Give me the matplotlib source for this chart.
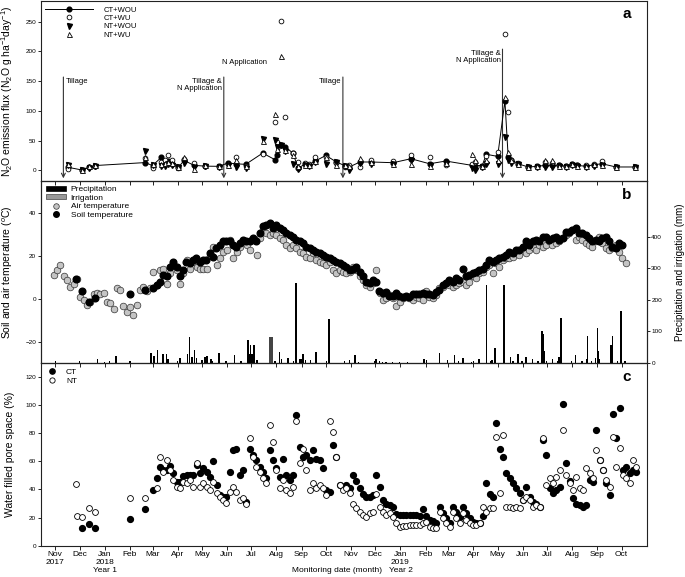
import matplotlib
matplotlib.use('Agg')
import matplotlib.pyplot as plt
import pandas as pd
from matplotlib.lines import Line2D
from matplotlib.patches import Patch

plt.rcParams['font.family'] = ['Liberation Sans', 'DejaVu Sans']
plt.rcParams['mathtext.fontset'] = 'custom'
plt.rcParams['mathtext.rm'] = 'Liberation Sans'
plt.rcParams['mathtext.it'] = 'Liberation Sans:italic'
plt.rcParams['mathtext.bf'] = 'Liberation Sans:bold'

# ---------------- Panel a: N2O flux ----------------
flux_dates = ['2017-11-17', '2017-12-04', '2017-12-13', '2017-12-20',
              '2018-02-20', '2018-03-01', '2018-03-12', '2018-03-16', '2018-03-20', '2018-03-25',
              '2018-04-02', '2018-04-09', '2018-04-21', '2018-05-05', '2018-05-22', '2018-06-02',
              '2018-06-12', '2018-06-24', '2018-07-15', '2018-07-30', '2018-08-02', '2018-08-07',
              '2018-08-12', '2018-08-21', '2018-08-28', '2018-09-05', '2018-09-10', '2018-09-17',
              '2018-10-01', '2018-10-14', '2018-10-24',
              '2018-10-30', '2018-11-12', '2018-11-26', '2018-12-23', '2019-01-14', '2019-02-06',
              '2019-02-26', '2019-03-30', '2019-04-03', '2019-04-12', '2019-04-17', '2019-05-01',
              '2019-05-10', '2019-05-14', '2019-05-18', '2019-05-26', '2019-06-08', '2019-06-19',
              '2019-06-29', '2019-07-07', '2019-07-16', '2019-07-24', '2019-08-01', '2019-08-07',
              '2019-08-18', '2019-08-28', '2019-09-07', '2019-09-24', '2019-10-17']
ct_wou = [5, 0.5, 5, 8,
          13, 8, 22, 11, 15.6, 11,
          5, 16.7, 8.4, 7, 6.7, 12.3,
          11, 10, 29, 18, 25, 42,
          40, 29, 4, 10, 9.5, 15,
          25, 14, 8,
          5.6, 14, 14, 12.8, 19.5, 11,
          15.6, 8.4, 8, 8, 27, 23.4,
          117, 23, 18, 11, 5.6, 6.7,
          8.4, 8.4, 8.4, 6.7, 11, 8.4,
          6.7, 9.5, 11, 5.6, 5.6]
ct_wu = [2, 0, 6, 8,
         21, 4, 14, 18, 26, 17,
         4, 19.5, 12, 8, 5.6, 11,
         22, 8, 28, 81, 47, 251,
         90, 29.6, 14, 12, 10, 23,
         22, 12, 6,
         8.4, 5.6, 16.7, 15.6, 26, 22,
         8.4, 11, 14, 5.6, 23.4, 30.7,
         229, 98, 17, 12, 5, 6,
         14, 12, 9, 7, 10, 9,
         8.4, 10, 15.6, 6, 6]
nt_wou = [9, 0.5, 4, 7,
          33, 9, 8, 8, 10, 9,
          5, 12, 5.6, 8, 5.6, 9.5,
          5.6, 4.5, 52, 51, 40, 43,
          33, 11, 1.7, 8.4, 8, 14,
          11, 14, 7,
          0, 12, 11, 11, 16.7, 8.4,
          12, 4.5, 1, 5.6, 11, 11,
          56, 16.7, 12, 10, 5, 6,
          5.6, 5.6, 7, 6, 9, 7,
          6, 8, 8.4, 5, 5]
nt_wu = [11, 0, 7, 9,
         23, 10, 11, 12, 14, 12,
         6, 23, 3, 9, 8, 9.5,
         16.7, 7, 49, 95, 36, 193,
         35, 25, 7, 9.5, 9, 15,
         22, 8.4, 9,
         7, 21, 14, 10, 11, 6.7,
         12, 28, 16.7, 8, 16.7, 16.7,
         123, 30, 17, 11, 6, 6.7,
         16.7, 16.7, 8, 7, 10, 8,
         7, 11, 9.5, 6, 5.6]

event_dates = ['2017-11-11', '2018-05-28', '2018-10-22', '2019-05-07']
event_labels = ['Tillage', 'Tillage &\nN Application', 'Tillage', 'Tillage &\nN Application']
event_tops = [157, 157, 157, 204]

# ---------------- Panel b: temperature & rain ----------------
air_temp = [11, 13.5, 16, 10.4, 8.8, 5.5, 7, 9, 1, -0.5,
            -3, -1.5, 2, 2.6, 2, 2.6, -1.3, -2, -5, 5,
            4, -3.6, -6, -4, -7.5, -2.8, 4, 5.7, 3.4, 5,
            12.7, 6.5, 13.5, 14, 7, 12, 16.6, 13.5, 7, 12,
            18, 14, 17, 15, 14, 14, 14, 20, 24.4, 16,
            19, 22, 23, 27.5, 19, 22, 24.4, 26.8, 25.2, 23,
            27.5, 20.5, 28.3, 32, 30.6, 30, 30.6, 30, 28.3, 27.5,
            25.2, 23.6, 25.2, 23.6, 22, 21.3, 19.7, 19, 21.3, 18.2,
            17.4, 16.6, 16, 17.4, 13.5, 12, 13.5, 12.7,
            12, 12.7, 15, 13.5, 10.4, 8.8, 6.5, 5.7, 7.3, 13.5,
            2.6, -0.5, 0.3, 1.8, 0.3, -3.6, -1.3, 0.5, 1, 0.5,
            -0.5, 1, 0.5, -0.5, 3.4, 1, 0.5, 1.8, 5, 5.7,
            7.3, 6.5, 5.7, 6.5, 7.3, 8, 6.5, 8, 10.4, 9.6,
            12, 12.7, 15, 16, 12, 16.6, 15, 18.2, 19, 19,
            19.7, 21.3, 20.5, 24.4, 21.3, 23, 24.4, 23, 25.2, 24.4,
            25.2, 26.8, 25.2, 26, 26.8, 28.3, 30, 30.6, 32.2, 27.5,
            29, 27.5, 26, 25.2, 24.4, 26.8, 29, 26, 23.6, 23,
            23.6, 25.2, 22, 19, 16.6]
air_start, air_end = '2017-10-30', '2019-10-06'

soil_temp = [6.5, 8, 11, 10.4, 15, 17.4, 15, 10.4, 13.5, 17.4,
             16.6, 18.2, 19, 17.4, 18.2, 18.2, 21.3, 19.7, 23.6, 25.2,
             26.8, 26.8, 26.8, 25.2, 24.4, 26, 27.5, 26.8, 26.8, 28.3,
             26.8, 30.6, 33.8, 34.5, 35.3, 33, 34.5, 33, 32.2, 30.6,
             30, 29, 27.5, 26.8, 26, 24.4, 23.6, 23, 22, 21.3,
             20.5, 19.7, 19, 18.2, 17.4, 16.6, 16,
             15, 13.5, 14, 15, 12.7, 10.4, 8, 7.3, 8.8, 8,
             3.5, 2.6, 3, 1.5, 1.5, 2.6, 1.5, 1, 1.5, 1,
             2, 2.2, 2, 2.6, 2, 2.2, 1.8, 3, 4.2, 6.5,
             7.3, 8.8, 8, 9.6, 8.8, 14, 10.4, 11, 12, 12.7,
             13.5, 14, 16, 18.2, 17.4, 18.2, 19, 19.7, 20.5, 22,
             21.3, 23, 23, 24.4, 26.8, 25.2, 26.8, 27.5, 26.8, 29,
             29, 27.5, 28.3, 29, 27.5, 28.3, 31.4, 31.4, 32.2, 33,
             30.6, 30.6, 30, 28.3, 26.8, 27.5, 26.8, 28.3, 29, 26.8,
             24.4, 23.6, 26, 25.2]
soil_start, soil_end = '2018-03-06', '2019-10-02'
soil_early_dates = ['2017-11-27', '2017-12-04', '2017-12-13', '2017-12-20',
                    '2018-02-01', '2018-02-20', '2018-03-02']
soil_early = [9, 3.4, -1.6, 0.5, 2, 4.2, 5]

rain_dates = ['2017-11-01', '2017-12-01', '2017-12-23', '2018-01-01', '2018-01-07', '2018-01-15',
              '2018-02-01', '2018-02-27', '2018-03-03', '2018-03-07', '2018-03-14', '2018-03-18',
              '2018-03-20', '2018-04-01', '2018-04-04', '2018-04-13', '2018-04-16', '2018-04-19',
              '2018-04-22', '2018-04-24', '2018-05-01', '2018-05-05', '2018-05-07', '2018-05-12',
              '2018-05-14', '2018-05-22', '2018-05-31', '2018-06-10', '2018-06-18', '2018-06-26',
              '2018-06-27', '2018-06-29', '2018-06-30', '2018-07-02', '2018-07-04', '2018-07-08',
              '2018-07-30', '2018-08-05', '2018-08-07', '2018-08-15', '2018-08-22', '2018-08-25',
              '2018-08-26', '2018-08-30', '2018-09-01', '2018-09-03', '2018-09-06', '2018-09-12',
              '2018-09-19', '2018-10-02', '2018-10-04', '2018-10-05',
              '2018-10-24', '2018-10-30', '2018-11-06', '2018-11-10', '2018-11-30', '2018-12-02',
              '2018-12-06', '2018-12-10', '2018-12-14', '2018-12-22', '2018-12-31', '2019-01-10',
              '2019-01-30', '2019-02-02', '2019-02-18', '2019-02-28', '2019-03-09', '2019-03-14',
              '2019-03-19', '2019-03-30', '2019-04-01', '2019-04-08', '2019-04-17', '2019-04-22',
              '2019-04-24', '2019-04-28', '2019-05-09', '2019-05-17', '2019-05-20', '2019-05-26',
              '2019-05-31', '2019-06-05', '2019-06-13', '2019-06-20', '2019-06-25', '2019-06-26',
              '2019-06-28', '2019-06-30', '2019-07-08', '2019-07-14', '2019-07-16', '2019-07-18',
              '2019-07-19', '2019-07-31', '2019-08-05', '2019-08-13', '2019-08-19', '2019-08-20',
              '2019-08-25', '2019-08-30', '2019-09-01', '2019-09-02', '2019-09-04', '2019-09-18',
              '2019-09-20', '2019-09-26', '2019-09-30', '2019-10-01', '2019-10-05']
rain_mm = [7, 5, 14, 4, 5, 21,
           5, 31, 21, 40, 27, 27,
           14, 5, 17, 30, 81, 19,
           42, 16, 8, 19, 23, 12,
           5, 31, 5, 26, 5, 37,
           74, 30, 56, 30, 56, 8,
           5, 34, 14, 16, 5, 253,
           100, 14, 14, 30, 10, 8,
           34, 5, 48, 140,
           5, 8, 25, 4, 5, 12,
           6, 4, 4, 4, 4, 4,
           12, 10, 32, 8, 24, 5,
           15, 4, 5, 14, 248, 5,
           8, 48, 248, 18, 5, 30,
           5, 19, 12, 6, 100, 91,
           38, 5, 14, 5, 19, 142,
           50, 5, 26, 5, 14, 87,
           6, 16, 111, 38, 14, 58,
           86, 5, 165, 14, 6]
irr_dates = ['2018-07-23', '2018-07-24', '2018-07-25', '2018-07-26', '2018-07-27']
irr_mm = [81, 81, 81, 81, 81]

# ---------------- Panel c: WFPS ----------------
wfps_ct = [48, 56, 54, 54, 57, 51.5, 45.6, 45, 49.6, 50.4,
           50.4, 50.4, 57.5, 51.5, 55, 52.7, 49, 60, 43, 36,
           35, 35, 52.7, 68, 69, 50.4, 54, 31, 69, 64.6,
           61, 56, 52.7, 48, 68, 61, 55, 49, 62, 50.4,
           46.8, 50, 93, 70.5, 63, 64.6, 61, 68, 62, 61,
           55, 39.7, 38.5, 71.7, 63, 43,
           42, 43, 40.8, 50.4, 46, 41, 37, 35, 35, 36,
           50.4, 42, 32.5, 30, 29, 27.8, 22.5, 22, 22, 22,
           21.5, 21.5, 21.5, 21, 26, 21, 18.5, 17.5, 16, 27.8,
           23, 19.5, 16, 27.8, 24, 20.7, 27.8, 23, 19.5, 17,
           16, 16.5, 21, 44.4, 37, 35, 87, 69, 63, 51.5,
           48, 44.4, 40.8, 37.3, 32.5, 42, 35, 31, 30, 27.8,
           75, 64.6, 40.8, 37.3, 39.7, 42, 100.7, 58.7, 46, 33.7,
           30, 29, 27.8, 29, 46.8, 45.6, 82.4, 61, 54, 44.4,
           36, 94, 76.5, 97.9, 54, 56, 51.5, 54, 52.7]
wfps_nt = [41, 63, 52.7, 61, 54, 46.8, 42, 40.8, 45.6, 44.4,
           46.8, 42, 58.7, 42, 44.4, 42, 39.7, 45.6, 37.3, 35,
           32.5, 30.6, 38.5, 42, 38.5, 32.5, 33.7, 30, 76.5, 63,
           56, 52.7, 48, 44.4, 86, 74, 54, 40.8, 46.8, 39.7,
           37.3, 42, 88.4, 58.7, 69, 54, 39.7, 44.4, 40.8, 43,
           40.8, 36, 88.4, 81, 63, 43,
           39.7, 40.8, 37.3, 30, 26.6, 24.2, 21.8, 20.7, 23, 24.2,
           37, 27.8, 24.2, 21.8, 23, 20.7, 15.9, 13.5, 14, 14,
           14.7, 14.7, 14.7, 14.7, 15.9, 17, 13.5, 12.4, 12.4, 24.2,
           19.5, 15.9, 13.5, 24.2, 19.5, 15.9, 23, 18.3, 15.9, 14.7,
           14.7, 15.9, 27.8, 24.2, 26.6, 26.6, 77.7, 37.3, 78.9, 27.8,
           27.8, 26.6, 27.8, 26.6, 32.5, 35, 32.5, 27.8, 29, 27.8,
           76.5, 43, 48, 44.4, 49, 54, 82.4, 50.4, 44.4, 39.7,
           49, 40.8, 39.7, 55, 51.5, 48, 68, 61, 54, 46.8,
           42, 77.7, 56, 69.4, 50.4, 48, 44.4, 61, 56]
wfps_start, wfps_end = '2018-03-06', '2019-10-19'
ct_early_dates = ['2017-12-04', '2017-12-13', '2017-12-20', '2018-02-01', '2018-02-20', '2018-03-01']
ct_early = [12.4, 15.4, 12.4, 18.8, 26.4, 39.7]
nt_early_dates = ['2017-11-26', '2017-11-28', '2017-12-04', '2017-12-13', '2017-12-20',
                  '2018-02-01', '2018-02-20']
nt_early = [43.7, 21.4, 20.2, 26.6, 24.2, 33.7, 34.2]

# ---------------- Figure ----------------
fig = plt.figure(figsize=(6.85, 5.77), dpi=100)
L = 40.7 / 685
W = 606 / 685
ax_a = fig.add_axes([L, 1 - 181 / 577, W, 180 / 577])
ax_b = fig.add_axes([L, 1 - 363 / 577, W, 182 / 577])
ax_c = fig.add_axes([L, 1 - 545.7 / 577, W, 182.7 / 577])
ax_b2 = ax_b.twinx()

xmin, xmax = pd.Timestamp('2017-10-14'), pd.Timestamp('2019-11-01')
month_ticks = pd.date_range('2017-11-01', '2019-10-01', freq='MS')
month_labels = []
for d in month_ticks:
    m = d.strftime('%b')
    if d.month == 1 or (d.year == 2017 and d.month == 11):
        month_labels.append(f'{m}\n{d.year}')
    else:
        month_labels.append(m)

for ax in (ax_a, ax_b, ax_c):
    ax.set_xlim(xmin, xmax)
    ax.set_xticks(month_ticks)
    for s in ax.spines.values():
        s.set_linewidth(0.8)
        s.set_color('#222222')
    ax.tick_params(axis='x', direction='out', length=3, width=0.6, pad=1, labelsize=6)
    ax.tick_params(axis='y', direction='out', length=2.5, width=0.6, pad=0.8, labelsize=4.6)
ax_a.set_xticklabels([])
ax_b.set_xticklabels([])
ax_c.set_xticklabels(month_labels)

# Panel a
fd = pd.to_datetime(flux_dates)
ax_a.plot(fd, ct_wou, '-', color='black', lw=0.7, zorder=3)
ax_a.plot(fd, ct_wou, 'o', color='black', ms=3.4, zorder=4)
ax_a.plot(fd, ct_wu, 'o', mfc='white', mec='black', mew=0.6, ms=3.4, zorder=5)
ax_a.plot(fd, nt_wou, 'v', color='black', ms=3.6, zorder=6)
ax_a.plot(fd, nt_wu, '^', mfc='white', mec='black', mew=0.6, ms=3.6, zorder=7)
ax_a.set_ylim(-18, 285)
ax_a.set_yticks([0, 50, 100, 150, 200, 250])
ax_a.set_ylabel('N$_2$O emission flux (N$_2$O g ha$^{-1}$day$^{-1}$)', fontsize=7.5)
ax_a.yaxis.set_label_coords(-0.042, 0.5)

for ds, lab, top in zip(event_dates, event_labels, event_tops):
    d = pd.Timestamp(ds)
    ax_a.annotate('', xy=(d, -13.5), xytext=(d, top),
                  arrowprops=dict(arrowstyle='->', color='#333333', lw=0.8,
                                  shrinkA=0, shrinkB=0, mutation_scale=7), zorder=2)
for ds, lab, top, side in zip(event_dates, event_labels, event_tops, ['left', 'right', 'right', 'right']):
    d = pd.Timestamp(ds)
    off = pd.Timedelta(days=3) if side == 'left' else -pd.Timedelta(days=2)
    ax_a.text(d + off, top - 1, lab, ha=side, va='top', fontsize=5.5, linespacing=1.05,
              multialignment='right' if side == 'right' else 'left')
ax_a.text(pd.Timestamp('2018-06-23'), 182, 'N Application', ha='center', va='center', fontsize=5.5)
ax_a.text(0.9675, 0.928, 'a', transform=ax_a.transAxes, fontsize=11, fontweight='bold',
          ha='center', va='center')

h_a = [Line2D([], [], color='black', lw=0.7, marker='o', ms=3.4),
       Line2D([], [], ls='none', marker='o', mfc='white', mec='black', mew=0.6, ms=3.4),
       Line2D([], [], ls='none', marker='v', color='black', ms=3.6),
       Line2D([], [], ls='none', marker='^', mfc='white', mec='black', mew=0.6, ms=3.6)]
ax_a.legend(h_a, ['CT+WOU', 'CT+WU', 'NT+WOU', 'NT+WU'], loc='upper left',
            bbox_to_anchor=(0.0, 0.995), frameon=False, fontsize=5.5, handlelength=6.2,
            handletextpad=1.4, labelspacing=0.12, borderaxespad=0.3, borderpad=0.3,
            numpoints=1)

# Panel b
ax_b2.bar(pd.to_datetime(rain_dates), rain_mm, width=1.8, color='black', lw=0, zorder=2)
ax_b2.bar(pd.to_datetime(irr_dates), irr_mm, width=1.3, color='#444444', lw=0, zorder=2)
ax_b2.set_ylim(0, 576)
ax_b2.set_yticks([0, 100, 200, 300, 400])
ax_b2.tick_params(axis='y', direction='out', length=2.5, width=0.6, pad=0.8, labelsize=4.6)
ax_b2.set_ylabel('Precipitation and irrigation (mm)', fontsize=7)
ax_b2.yaxis.set_label_coords(1.046, 0.5)
for s in ax_b2.spines.values():
    s.set_linewidth(0.8)
    s.set_color('#222222')

air_d = pd.date_range(air_start, air_end, periods=len(air_temp))
soil_d = pd.date_range(soil_start, soil_end, periods=len(soil_temp))
ax_b.plot(air_d, air_temp, 'o', mfc='#c4c4c4', mec='#333333', mew=0.5, ms=4.8, zorder=3)
ax_b.plot(pd.to_datetime(soil_early_dates), soil_early, 'o', color='black', ms=4.8, zorder=4)
ax_b.plot(soil_d, soil_temp, 'o', color='black', ms=4.8, zorder=4)
ax_b.set_ylim(-30, 55)
ax_b.set_yticks([-20, 0, 20, 40])
ax_b.set_ylabel('Soil and air temperature ($^{o}$C)', fontsize=7.5)
ax_b.yaxis.set_label_coords(-0.042, 0.5)
ax_b.set_zorder(ax_b2.get_zorder() + 1)
ax_b.patch.set_visible(False)
ax_b.text(0.9675, 0.923, 'b', transform=ax_b.transAxes, fontsize=11, fontweight='bold',
          ha='center', va='center')
h_b = [Patch(facecolor='black', edgecolor='black', lw=0.5),
       Patch(facecolor='#999999', edgecolor='#444444', lw=0.5),
       Line2D([], [], ls='none', marker='o', mfc='#c4c4c4', mec='#333333', mew=0.5, ms=4),
       Line2D([], [], ls='none', marker='o', color='black', ms=4)]
ax_b.legend(h_b, ['Precipitation', 'Irrigation', 'Air temperature', 'Soil temperature'],
            loc='upper left', bbox_to_anchor=(0.0, 1.0), frameon=False, fontsize=6,
            handlelength=2.4, handleheight=0.55, handletextpad=0.6, labelspacing=0.12,
            borderaxespad=0.3, borderpad=0.3)

# Panel c
wd = pd.date_range(wfps_start, wfps_end, periods=len(wfps_ct))
ax_c.plot(pd.to_datetime(ct_early_dates), ct_early, 'o', color='black', ms=4.2, zorder=3)
ax_c.plot(wd, wfps_ct, 'o', color='black', ms=4.2, zorder=3)
ax_c.plot(pd.to_datetime(nt_early_dates), nt_early, 'o', mfc='white', mec='black', mew=0.6,
          ms=4.2, zorder=4)
ax_c.plot(wd, wfps_nt, 'o', mfc='white', mec='black', mew=0.6, ms=4.2, zorder=4)
ax_c.set_ylim(0, 130)
ax_c.set_yticks([0, 20, 40, 60, 80, 100, 120])
ax_c.set_ylabel('Water filled pore space (%)', fontsize=7.5)
ax_c.yaxis.set_label_coords(-0.042, 0.5)
ax_c.text(0.9675, 0.923, 'c', transform=ax_c.transAxes, fontsize=11, fontweight='bold',
          ha='center', va='center')
h_c = [Line2D([], [], ls='none', marker='o', color='black', ms=3.8),
       Line2D([], [], ls='none', marker='o', mfc='white', mec='black', mew=0.6, ms=3.8)]
ax_c.legend(h_c, ['CT', 'NT'], loc='upper left', bbox_to_anchor=(0.0, 1.0), frameon=False,
            fontsize=6, handlelength=1.6, handletextpad=0.85, labelspacing=0.1,
            borderaxespad=0.3, borderpad=0.3)

xt = ax_c.get_xaxis_transform()
ax_c.text(pd.Timestamp('2018-01-01'), -0.137, 'Year 1', transform=xt, ha='center', va='center',
          fontsize=6)
ax_c.text(pd.Timestamp('2019-01-02'), -0.137, 'Year 2', transform=xt, ha='center', va='center',
          fontsize=6)
fig.text(337 / 685, 1 - 570.7 / 577, 'Monitoring date (month)', ha='center', va='center',
         fontsize=6)

fig.savefig('out.png', dpi=100)
